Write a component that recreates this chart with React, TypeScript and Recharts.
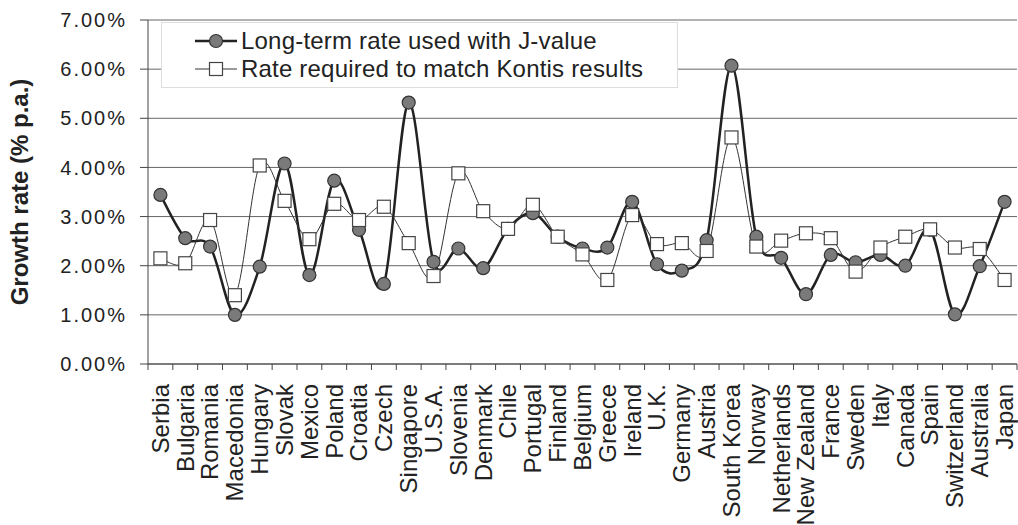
import { CartesianGrid, Line, LineChart, XAxis, YAxis } from 'recharts'

document.body.style.margin = '0'

const countries = [
  'Serbia', 'Bulgaria', 'Romania', 'Macedonia', 'Hungary', 'Slovak', 'Mexico', 'Poland',
  'Croatia', 'Czech', 'Singapore', 'U.S.A.', 'Slovenia', 'Denmark', 'Chile', 'Portugal',
  'Finland', 'Belgium', 'Greece', 'Ireland', 'U.K.', 'Germany', 'Austria', 'South Korea',
  'Norway', 'Netherlands', 'New Zealand', 'France', 'Sweden', 'Italy', 'Canada', 'Spain',
  'Switzerland', 'Australia', 'Japan',
]

const jValueRate = [
  3.44, 2.56, 2.39, 1.0, 1.98, 4.08, 1.81, 3.73, 2.73, 1.63, 5.32, 2.08, 2.35, 1.95, 2.75, 3.07,
  2.59, 2.35, 2.37, 3.3, 2.03, 1.9, 2.52, 6.07, 2.59, 2.16, 1.42, 2.22, 2.07, 2.22, 2.0, 2.73,
  1.01, 1.99, 3.3,
]

const kontisRate = [
  2.15, 2.05, 2.93, 1.4, 4.04, 3.32, 2.54, 3.26, 2.93, 3.2, 2.46, 1.79, 3.88, 3.11, 2.75, 3.24,
  2.59, 2.23, 1.71, 3.03, 2.44, 2.46, 2.3, 4.61, 2.39, 2.51, 2.66, 2.56, 1.88, 2.37, 2.59, 2.74,
  2.37, 2.34, 1.71,
]

const yTicks = [0, 1, 2, 3, 4, 5, 6, 7]

const data = countries.map((name, i) => ({
  name,
  pos: i + 0.5,
  jvalue: jValueRate[i],
  kontis: kontisRate[i],
}))

const W = 1018
const H = 525
const Y_W = 148
const RIGHT = 1
const step = (W - Y_W - RIGHT) / countries.length
const FONT = '"Liberation Sans", Arial, sans-serif'

// Excel-style smoothed line (cardinal spline through the points)
const smooth = (context: any) => {
  let pts: number[][] = []
  const k = 1 / 6
  return {
    areaStart() {},
    areaEnd() {},
    lineStart() {
      pts = []
    },
    lineEnd() {
      const n = pts.length
      if (!n) return
      context.moveTo(pts[0][0], pts[0][1])
      for (let i = 0; i < n - 1; i++) {
        const p0 = pts[Math.max(i - 1, 0)]
        const p1 = pts[i]
        const p2 = pts[i + 1]
        const p3 = pts[Math.min(i + 2, n - 1)]
        context.bezierCurveTo(
          p1[0] + (p2[0] - p0[0]) * k,
          p1[1] + (p2[1] - p0[1]) * k,
          p2[0] - (p3[0] - p1[0]) * k,
          p2[1] - (p3[1] - p1[1]) * k,
          p2[0],
          p2[1],
        )
      }
    },
    point(x: number, y: number) {
      pts.push([+x, +y])
    },
  }
}

function CountryTick({ x, y, payload }: any) {
  const idx = payload.value
  if (idx >= countries.length) return null
  const cx = x + step / 2
  const cy = y + 12
  return (
    <text
      x={cx}
      y={cy}
      dy="0.35em"
      transform={`rotate(-90, ${cx}, ${cy})`}
      textAnchor="end"
      fontSize={24}
      fontFamily={FONT}
      fill="#222"
    >
      {countries[idx]}
    </text>
  )
}

function Circle({ cx, cy }: any) {
  return <circle cx={cx} cy={cy} r={6.5} fill="#7a7a7a" stroke="#333" strokeWidth={1.2} />
}

function Square({ cx, cy }: any) {
  return <rect x={cx - 6.5} y={cy - 6.5} width={13} height={13} fill="#fff" stroke="#444" strokeWidth={1.2} />
}

function LegendBox() {
  return (
    <div
      style={{
        position: 'absolute',
        left: 161,
        top: 22,
        width: 515,
        height: 64,
        background: '#fff',
        border: '1px solid #ddd',
        fontFamily: FONT,
        fontSize: 24,
        letterSpacing: 0.2,
        color: '#222',
      }}
    >
      <div style={{ position: 'absolute', left: 33, top: 4, display: 'flex', alignItems: 'center', height: 28 }}>
        <svg width={42} height={20}>
          <line x1={0} y1={10} x2={42} y2={10} stroke="#222" strokeWidth={2.5} />
          <circle cx={21} cy={10} r={6.5} fill="#7a7a7a" stroke="#333" strokeWidth={1.2} />
        </svg>
        <span style={{ marginLeft: 4 }}>Long-term rate used with J-value</span>
      </div>
      <div style={{ position: 'absolute', left: 33, top: 32, display: 'flex', alignItems: 'center', height: 28 }}>
        <svg width={42} height={20}>
          <line x1={0} y1={10} x2={42} y2={10} stroke="#333" strokeWidth={1} />
          <rect x={14.5} y={3.5} width={13} height={13} fill="#fff" stroke="#444" strokeWidth={1.2} />
        </svg>
        <span style={{ marginLeft: 4 }}>Rate required to match Kontis results</span>
      </div>
    </div>
  )
}

export default function App() {
  return (
    <div style={{ position: 'relative', width: W, height: H, background: '#fff' }}>
      <LineChart width={W} height={H} data={data} margin={{ top: 20, right: RIGHT, left: 0, bottom: 0 }}>
        <CartesianGrid vertical={false} stroke="#666" strokeWidth={1} />
        <XAxis
          type="number"
          dataKey="pos"
          domain={[0, countries.length]}
          ticks={countries.map((_, i) => i).concat(countries.length)}
          interval={0}
          height={161}
          tickSize={6}
          tickMargin={2}
          stroke="#444"
          tick={<CountryTick />}
        />
        <YAxis
          domain={[0, 7]}
          ticks={yTicks}
          width={Y_W}
          tickSize={8}
          tickMargin={13}
          stroke="#444"
          tickFormatter={(v: number) => `${v.toFixed(2)}%`}
          tick={{ fontSize: 20, fill: '#222', fontFamily: FONT, letterSpacing: 2 }}
          label={{
            value: 'Growth rate (% p.a.)',
            angle: -90,
            position: 'center',
            dx: -55,
            style: { fontSize: 24, fontWeight: 'bold', fill: '#222', fontFamily: FONT },
          }}
        />
        <Line
          dataKey="jvalue"
          type={smooth as any}
          stroke="#222"
          strokeWidth={2.5}
          dot={<Circle />}
          activeDot={false}
          isAnimationActive={false}
        />
        <Line
          dataKey="kontis"
          type={smooth as any}
          stroke="#333"
          strokeWidth={1}
          dot={<Square />}
          activeDot={false}
          isAnimationActive={false}
        />
      </LineChart>
      <LegendBox />
    </div>
  )
}
